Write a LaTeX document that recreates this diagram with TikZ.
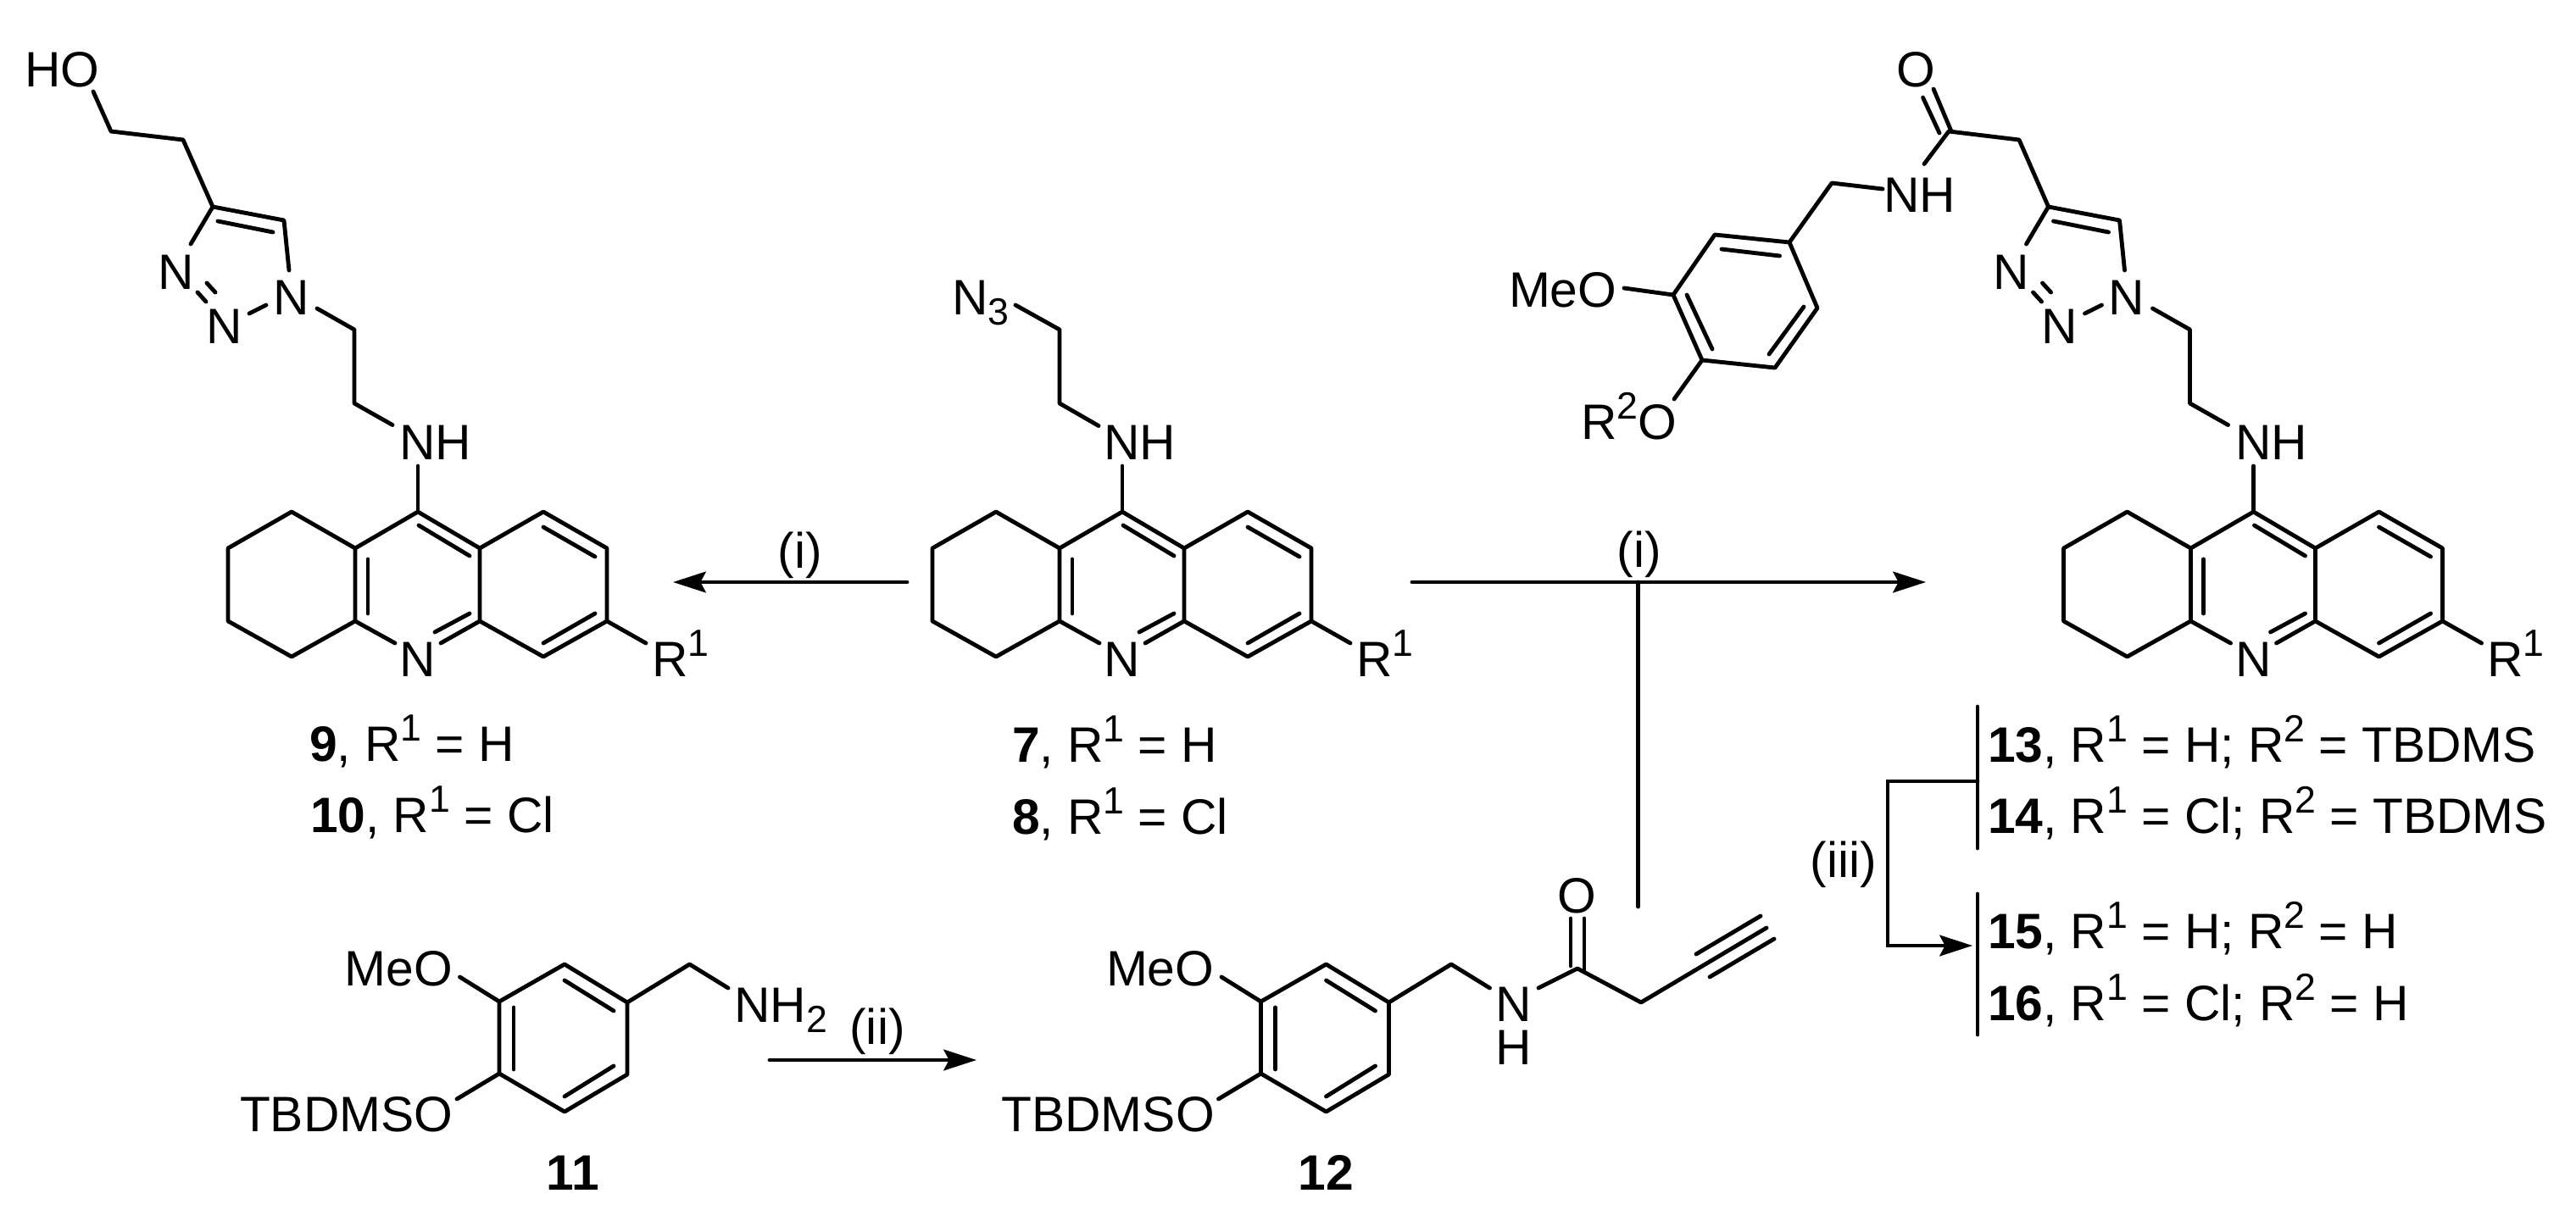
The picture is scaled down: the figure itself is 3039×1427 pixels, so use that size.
\documentclass[tikz,border=0pt]{standalone}
\usepackage{fontspec}
\setmainfont{Liberation Sans}
\usetikzlibrary{arrows.meta}
\newcommand\supx[1]{\raisebox{6.8pt}{\fontsize{12.7}{14}\selectfont #1}}
\newcommand\subx[1]{\raisebox{-3.5pt}{\fontsize{12.7}{14}\selectfont #1}}
\tikzset{
  bond/.style={line width=1.38pt,line cap=round,line join=round,black},
  rxn/.style={line width=1.38pt,line cap=round,line join=miter,black,-{Stealth[length=11pt,width=7pt,inset=1.8pt]}},
  plainline/.style={line width=1.38pt,line cap=round,line join=miter,black},
  txt/.style={inner sep=0pt,outer sep=0pt,font=\fontsize{16.7}{20}\selectfont,text=black},
  bw/.style={txt,anchor=base west},
  bc/.style={txt,anchor=base},
}
% tetrahydroacridine core; origin at C9
\newcommand\tricycle[2]{%
  \begin{scope}[shift={(#2,604)}]
    \draw[bond] (0,0)--(73,43)--(73,129)--(27,155);
    \draw[bond] (-27,155)--(-74,129)--(-74,43)--(0,0);
    \draw[bond] (-74,43)--(-149,0)--(-224,43)--(-224,129)--(-149,171)--(-74,129);
    \draw[bond] (73,43)--(148,0)--(223,43)--(223,129)--(148,171)--(73,129);
    \draw[bond] (1,16)--(61,52);
    \draw[bond] (-59,56)--(-59,120);
    \draw[bond] (20,142)--(61,120);
    \draw[bond] (148,18)--(209,53);
    \draw[bond] (148,155)--(209,120);
    \draw[bond] (223,129)--(269,155);
    \draw[bond] (0,-54)--(0,0);
    \node[bc] (#1ringN) at (0,194) {N};
    \node[bw] (#1R) at (276,194) {R\supx{1}};
    \node[bw] (#1NH) at (-21.5,-62) {NH};
  \end{scope}}
% triazole with ethyl link (drawn in the coordinates of compound 9)
\newcommand\triazole[1]{%
  \draw[bond] (251,244)--(335,260)--(341,319);
  \draw[bond] (257,261)--(322,274);
  \draw[bond] (251,244)--(225,288);
  \draw[bond] (314,360)--(294,370);
  \draw[bond] (233,345)--(243,356);
  \draw[bond] (244,334)--(254,345);
  \draw[bond] (374,364)--(418,389)--(418,476)--(463,501.5);
  \node[bc] (#1nA) at (343.5,371) {N};
  \node[bc] (#1nB) at (264.5,405.5) {N};
  \node[bc] (#1nC) at (207.5,341.6) {N};}
% vanillyl ring of 11 and 12
\newcommand\vanillyl[2]{%
  \begin{scope}[shift={(#2,0)}]
    \draw[bond] (740,1183)--(666,1138)--(589,1182)--(589,1267)--(666,1312)--(740,1268)--cycle;
    \draw[bond] (724,1193)--(666,1157);
    \draw[bond] (606,1189)--(606,1262);
    \draw[bond] (666,1294)--(724,1258);
    \draw[bond] (740,1183)--(813.5,1138)--(859,1166);
    \draw[bond] (589,1182)--(542.5,1153);
    \draw[bond] (589,1267)--(539,1297);
    \node[bw] (#1MeO) at (406.5,1163) {MeO};
    \node[bw] (#1TBS) at (283,1335) {TBDMSO};
  \end{scope}}
\begin{document}
\begin{tikzpicture}[x=0.01cm,y=-0.01cm]
\useasboundingbox (0,0) rectangle (3039,1427);
\fill[white] (0,0) rectangle (3039,1427);

% ---- compound 9/10
\tricycle{a}{493}
\triazole{a}
\draw[bond] (110,108)--(131,155)--(216,165)--(251,244);
\node[bw] (aHO) at (29.5,102) {HO};
\node[bw] (lab9) at (365,898) {\textbf{9}, R\supx{1} = H};
\node[bw] (lab10) at (366,982) {\textbf{10}, R\supx{1} = Cl};

% ---- compound 7/8
\tricycle{b}{1324}
\draw[bond] (1296,502.5)--(1250,476)--(1250,389)--(1198,360);
\node[bw] (bN3) at (1123,371) {N\subx{3}};
\node[bw] (lab7) at (1194,899) {\textbf{7}, R\supx{1} = H};
\node[bw] (lab8) at (1194,984) {\textbf{8}, R\supx{1} = Cl};

% ---- compound 13-16
\tricycle{c}{2658.5}
\begin{scope}[shift={(2165.5,0)}]\triazole{c}\end{scope}
\draw[bond] (2417,245)--(2382,165)--(2299,155)--(2270,193.5);
\draw[bond] (2302,155)--(2281,105);
\draw[bond] (2288,157)--(2268.5,115);
\node[bc] (cO) at (2260,102) {O};
\node[bw] (cNHa) at (2222.5,250) {NH};
\draw[bond] (2221,223)--(2161,216)--(2111,286);
\draw[bond] (2111,286)--(2023,277)--(1974,348)--(2008,425)--(2094,434)--(2144,363.5)--cycle;
\draw[bond] (2031,294)--(2099.5,302);
\draw[bond] (1990,348)--(2020,412);
\draw[bond] (2087,418)--(2128,362);
\draw[bond] (1916,340)--(1974,348);
\draw[bond] (2008,425)--(1975,471);
\node[bw] (cMeO) at (1780,362) {MeO};
\node[bw] (cR2O) at (1865.5,518) {R\supx{2}O};

% ---- compound 11
\vanillyl{d}{0}
\node[bw] (dNH2) at (866.5,1206) {NH\subx{2}};
\node[bc] (lab11) at (676,1404) {\textbf{11}};

% ---- compound 12
\vanillyl{e}{898.5}
\node[bc] (eN) at (1786,1205) {N};
\node[bc] (eH) at (1786,1256) {H};
\draw[bond] (1815,1166)--(1861,1143)--(1936,1183)--(2084,1095);
\draw[bond] (1853,1140)--(1853,1084);
\draw[bond] (1869,1147)--(1869,1084);
\draw[bond] (2001,1126)--(2077,1081);
\draw[bond] (2017,1153)--(2093,1108);
\node[bc] (eO) at (1860,1077) {O};
\node[bc] (lab12) at (1564,1404) {\textbf{12}};

% ---- reaction arrows
\coordinate (a1s) at (1070,687); \coordinate (a1e) at (794,687);
\draw[rxn] (a1s)--(a1e);
\node[bc] (i1) at (944,670) {(i)};
\coordinate (a2s) at (1666,687); \coordinate (a2e) at (2272,687);
\draw[rxn] (a2s)--(a2e);
\node[bc] (i2) at (1934,669) {(i)};
\coordinate (v2t) at (1932.5,687); \coordinate (v2b) at (1932.5,1070);
\draw[plainline] (v2t)--(v2b);
\coordinate (a3s) at (908,1251); \coordinate (a3e) at (1152,1251);
\draw[rxn] (a3s)--(a3e);
\node[bc] (ii) at (1035,1232) {(ii)};

% ---- brackets and deprotection arrow
\coordinate (b1t) at (2333,834); \coordinate (b1b) at (2333,1001);
\coordinate (b2t) at (2333,1055); \coordinate (b2b) at (2333,1221);
\draw[plainline] (b1t)--(b1b);
\draw[plainline] (b2t)--(b2b);
\coordinate (dp1) at (2333,922); \coordinate (dp2) at (2227,922);
\coordinate (dp3) at (2227,1116); \coordinate (dp4) at (2327,1116);
\draw[rxn] (dp1)--(dp2)--(dp3)--(dp4);
\node[bc] (iii) at (2175,1035) {(iii)};
\node[bw] (lab13) at (2345,899) {\textbf{13}, R\supx{1} = H; R\supx{2} = TBDMS};
\node[bw] (lab14) at (2345,983) {\textbf{14}, R\supx{1} = Cl; R\supx{2} = TBDMS};
\node[bw] (lab15) at (2345,1119) {\textbf{15}, R\supx{1} = H; R\supx{2} = H};
\node[bw] (lab16) at (2345,1204) {\textbf{16}, R\supx{1} = Cl; R\supx{2} = H};
\end{tikzpicture}
\end{document}
